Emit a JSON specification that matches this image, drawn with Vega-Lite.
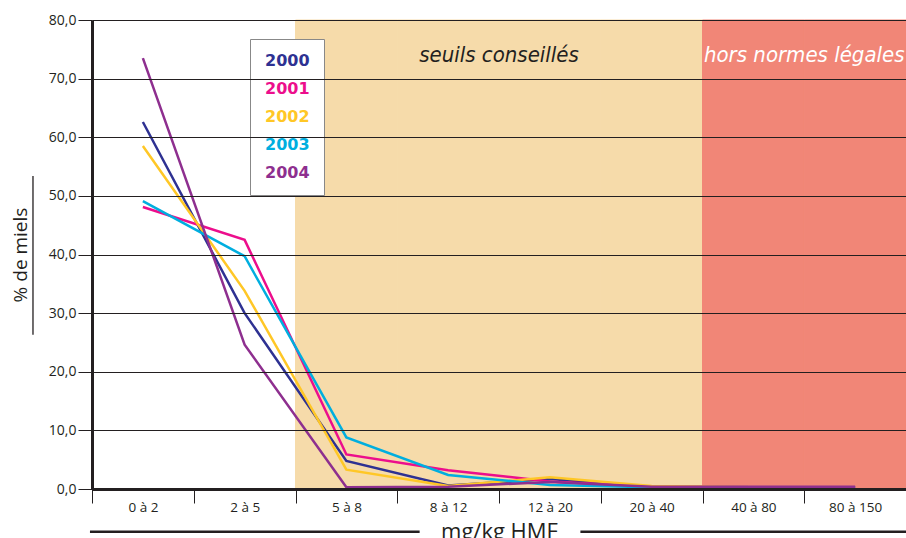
{
  "$schema": "https://vega.github.io/schema/vega-lite/v6.json",
  "width": 814,
  "height": 469,
  "autosize": {"type": "none"},
  "padding": {"left": 92, "top": 20, "right": 0, "bottom": 49},
  "background": "white",
  "config": {"view": {"stroke": null}, "font": "Open Sans"},
  "datasets": {
    "zones": [
      {"cat": "0 à 2", "zone": "libre"},
      {"cat": "2 à 5", "zone": "libre"},
      {"cat": "5 à 8", "zone": "conseil"},
      {"cat": "8 à 12", "zone": "conseil"},
      {"cat": "12 à 20", "zone": "conseil"},
      {"cat": "20 à 40", "zone": "conseil"},
      {"cat": "40 à 80", "zone": "hors"},
      {"cat": "80 à 150", "zone": "hors"}
    ],
    "etiquettes": [
      {"cat": "8 à 12", "label": "seuils conseillés", "zone": "conseil"},
      {"cat": "40 à 80", "label": "hors normes légales", "zone": "hors"}
    ],
    "miels": [
      {"annee": "2000", "cat": "0 à 2", "pct": 62.6},
      {"annee": "2000", "cat": "2 à 5", "pct": 30.0},
      {"annee": "2000", "cat": "5 à 8", "pct": 4.8},
      {"annee": "2000", "cat": "8 à 12", "pct": 0.6},
      {"annee": "2000", "cat": "12 à 20", "pct": 1.7},
      {"annee": "2000", "cat": "20 à 40", "pct": 0.4},
      {"annee": "2000", "cat": "40 à 80", "pct": 0.3},
      {"annee": "2000", "cat": "80 à 150", "pct": 0.3},
      {"annee": "2001", "cat": "0 à 2", "pct": 48.1},
      {"annee": "2001", "cat": "2 à 5", "pct": 42.5},
      {"annee": "2001", "cat": "5 à 8", "pct": 5.9},
      {"annee": "2001", "cat": "8 à 12", "pct": 3.2},
      {"annee": "2001", "cat": "12 à 20", "pct": 1.3},
      {"annee": "2001", "cat": "20 à 40", "pct": 0.4},
      {"annee": "2001", "cat": "40 à 80", "pct": 0.3},
      {"annee": "2001", "cat": "80 à 150", "pct": 0.3},
      {"annee": "2002", "cat": "0 à 2", "pct": 58.5},
      {"annee": "2002", "cat": "2 à 5", "pct": 33.8},
      {"annee": "2002", "cat": "5 à 8", "pct": 3.3},
      {"annee": "2002", "cat": "8 à 12", "pct": 0.5},
      {"annee": "2002", "cat": "12 à 20", "pct": 2.0},
      {"annee": "2002", "cat": "20 à 40", "pct": 0.5},
      {"annee": "2002", "cat": "40 à 80", "pct": 0.3},
      {"annee": "2002", "cat": "80 à 150", "pct": 0.3},
      {"annee": "2003", "cat": "0 à 2", "pct": 49.1},
      {"annee": "2003", "cat": "2 à 5", "pct": 39.7},
      {"annee": "2003", "cat": "5 à 8", "pct": 8.8},
      {"annee": "2003", "cat": "8 à 12", "pct": 2.4},
      {"annee": "2003", "cat": "12 à 20", "pct": 0.7},
      {"annee": "2003", "cat": "20 à 40", "pct": 0.3},
      {"annee": "2003", "cat": "40 à 80", "pct": 0.3},
      {"annee": "2003", "cat": "80 à 150", "pct": 0.3},
      {"annee": "2004", "cat": "0 à 2", "pct": 73.5},
      {"annee": "2004", "cat": "2 à 5", "pct": 24.6},
      {"annee": "2004", "cat": "5 à 8", "pct": 0.3},
      {"annee": "2004", "cat": "8 à 12", "pct": 0.4},
      {"annee": "2004", "cat": "12 à 20", "pct": 1.2},
      {"annee": "2004", "cat": "20 à 40", "pct": 0.4},
      {"annee": "2004", "cat": "40 à 80", "pct": 0.4},
      {"annee": "2004", "cat": "80 à 150", "pct": 0.4}
    ]
  },
  "layer": [
    {
      "layer": [
        {
          "data": {"name": "zones"},
          "transform": [{"filter": "datum.zone === 'conseil'"}],
          "mark": {"type": "rect", "color": "#F6DBAA", "stroke": "#F6DBAA", "strokeWidth": 1}
        },
        {
          "data": {"name": "zones"},
          "transform": [{"filter": "datum.zone === 'hors'"}],
          "mark": {"type": "rect", "color": "#F18677", "stroke": "#F18677", "strokeWidth": 1}
        },
        {
          "data": {"name": "etiquettes"},
          "mark": {"type": "text", "font": "DejaVu Sans Condensed, Open Sans", "fontStyle": "italic", "fontSize": 22, "baseline": "middle"},
          "encoding": {
            "x": {"field": "cat", "type": "ordinal", "bandPosition": 1},
            "y": {"datum": 74.0, "type": "quantitative"},
            "text": {"field": "label"},
            "color": {"condition": {"test": "datum.zone === 'hors'", "value": "white"}, "value": "#231F20"}
          }
        },
        {
          "data": {"name": "miels"},
          "mark": {"type": "line", "strokeWidth": 2.5},
          "encoding": {
            "y": {
              "field": "pct",
              "type": "quantitative",
              "scale": {"domain": [0, 80], "nice": false},
              "axis": {
                "title": "% de miels",
                "titleFontSize": 19,
                "titleFontWeight": "normal",
                "titleColor": "#231F20",
                "titlePadding": 18,
                "values": [0, 10, 20, 30, 40, 50, 60, 70, 80],
                "labelExpr": "replace(format(datum.value, '.1f'), '.', ',')",
                "labelFontSize": 14,
                "labelColor": "#231F20",
                "labelPadding": 2,
                "tickSize": 14,
                "tickColor": "#231F20",
                "grid": true,
                "gridColor": "#231F20",
                "gridWidth": 1.2,
                "domainColor": "#231F20",
                "domainWidth": 3,
                "zindex": 1
              }
            },
            "color": {
              "field": "annee",
              "type": "nominal",
              "scale": {
                "domain": ["2000", "2001", "2002", "2003", "2004"],
                "range": ["#2E3192", "#EC0E8C", "#FFC726", "#00AEDF", "#8E2F8F"]
              },
              "legend": {
                "orient": "none",
                "legendX": 158,
                "legendY": 19,
                "title": null,
                "fillColor": "white",
                "strokeColor": "#888888",
                "padding": 14,
                "symbolSize": 0,
                "symbolOpacity": 0,
                "symbolStrokeWidth": 0,
                "labelOffset": -15,
                "labelFont": "DejaVu Sans",
                "labelFontSize": 16,
                "labelFontWeight": "bold",
                "labelColor": {"expr": "scale('color', datum.value)"},
                "rowPadding": 12
              }
            }
          }
        }
      ],
      "encoding": {
        "x": {
          "field": "cat",
          "type": "ordinal",
          "sort": ["0 à 2", "2 à 5", "5 à 8", "8 à 12", "12 à 20", "20 à 40", "40 à 80", "80 à 150"],
          "scale": {
            "domain": ["0 à 2", "2 à 5", "5 à 8", "8 à 12", "12 à 20", "20 à 40", "40 à 80", "80 à 150"],
            "paddingInner": 0,
            "paddingOuter": 0
          },
          "axis": {
            "title": "mg/kg HMF",
            "titleFontSize": 22,
            "titleFontWeight": "normal",
            "titleColor": "#231F20",
            "titleBaseline": "top",
            "titleY": 32,
            "labelAngle": 0,
            "labelFontSize": 13.5,
            "labelColor": "#231F20",
            "labelPadding": -3,
            "tickBand": "extent",
            "tickSize": 14,
            "tickColor": "#231F20",
            "tickWidth": 1,
            "domainColor": "#231F20",
            "domainWidth": 3,
            "zindex": 1
          }
        }
      }
    },
    {
      "data": {"values": [{}]},
      "mark": {"type": "rule", "color": "#231F20", "strokeWidth": 2.5, "clip": false},
      "encoding": {
        "x": {"datum": -0.02, "type": "quantitative", "scale": {"domain": [0, 8], "nice": false, "zero": false}, "axis": null},
        "x2": {"datum": 3.22},
        "y": {"datum": -7.3, "type": "quantitative"}
      }
    },
    {
      "data": {"values": [{}]},
      "mark": {"type": "rule", "color": "#231F20", "strokeWidth": 2.5, "clip": false},
      "encoding": {
        "x": {"datum": 4.8, "type": "quantitative", "scale": {"domain": [0, 8], "nice": false, "zero": false}, "axis": null},
        "x2": {"datum": 8},
        "y": {"datum": -7.3, "type": "quantitative"}
      }
    },
    {
      "data": {"values": [{}]},
      "mark": {"type": "rule", "color": "#231F20", "strokeWidth": 1.3, "clip": false},
      "encoding": {
        "x": {"datum": -0.58, "type": "quantitative", "scale": {"domain": [0, 8], "nice": false, "zero": false}, "axis": null},
        "y": {"datum": 53.4, "type": "quantitative"},
        "y2": {"datum": 26.3}
      }
    }
  ],
  "resolve": {"scale": {"x": "independent"}, "axis": {"x": "independent"}}
}
